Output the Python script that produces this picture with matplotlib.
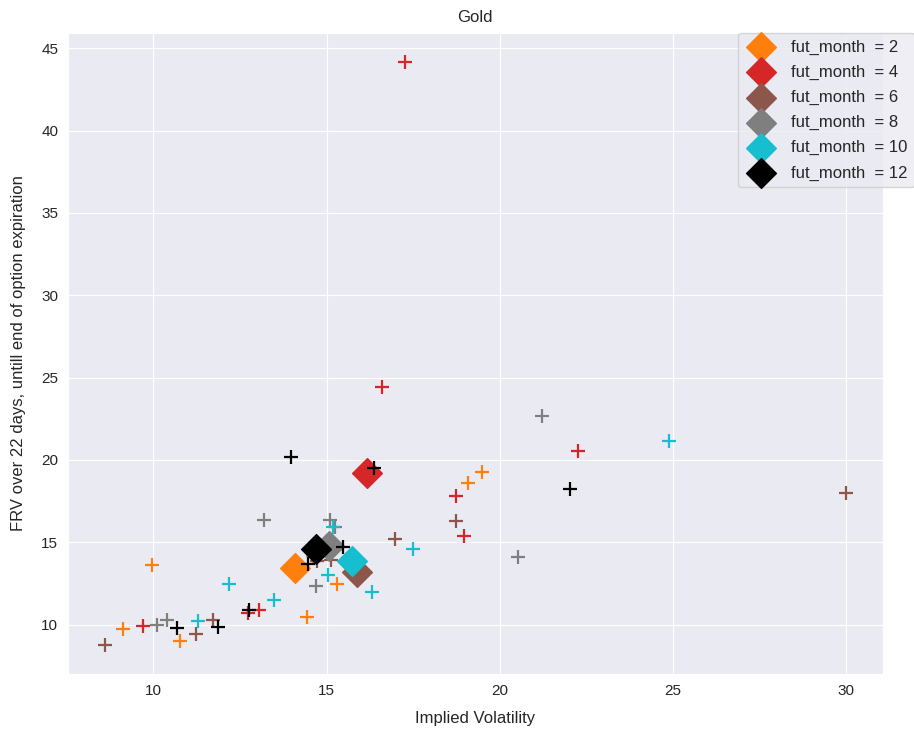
import numpy as np
import matplotlib
matplotlib.use('Agg')
import matplotlib.pyplot as plt
import seaborn as sns

sns.set_style('darkgrid')
plt.rcParams['font.family'] = ['Liberation Sans', 'DejaVu Sans']

# implied vol / forward realized vol per contract month
months = [2, 4, 6, 8, 10, 12]
colors = ['tab:orange', 'tab:red', 'tab:brown', 'tab:gray', 'tab:cyan', 'black']

iv_m2 = [9.95, 9.12, 10.77, 14.44, 15.31, 14.61, 19.09, 19.49]
frv_m2 = [13.59, 9.74, 9.03, 10.44, 12.48, 14.14, 18.59, 19.25]

iv_m4 = [17.27, 16.60, 22.27, 18.73, 18.97, 13.04, 12.72, 9.71]
frv_m4 = [44.18, 24.44, 20.56, 17.78, 15.35, 10.87, 10.71, 9.90]

iv_m6 = [30.0, 18.73, 16.98, 15.14, 14.73, 11.73, 11.22, 8.60]
frv_m6 = [17.98, 16.30, 15.21, 13.94, 13.84, 10.26, 9.45, 8.75]

iv_m8 = [21.23, 20.54, 13.19, 15.11, 14.69, 10.11, 10.38, 15.25]
frv_m8 = [22.69, 14.10, 16.36, 16.36, 12.32, 9.96, 10.30, 15.9]

iv_m10 = [24.91, 15.18, 17.50, 15.03, 16.32, 12.18, 13.47, 11.28]
frv_m10 = [21.15, 15.92, 14.61, 12.99, 11.98, 12.48, 11.47, 10.22]

iv_m12 = [13.96, 16.36, 22.03, 15.48, 14.47, 12.77, 10.69, 11.86]
frv_m12 = [20.2, 19.53, 18.22, 14.69, 13.68, 10.87, 9.78, 9.86]

iv = [iv_m2, iv_m4, iv_m6, iv_m8, iv_m10, iv_m12]
frv = [frv_m2, frv_m4, frv_m6, frv_m8, frv_m10, frv_m12]

fig = plt.figure(figsize=(9.14, 7.33), dpi=100)
ax = fig.add_axes([0.0744, 0.0801, 0.8913, 0.8753])

for m, c, x, y in zip(months, colors, iv, frv):
    ax.scatter(x, y, marker='+', s=100, color=c, linewidths=1.6)
    ax.scatter(np.mean(x), np.mean(y), marker='D', s=230, color=c,
               label='fut_month  = ' + str(m))

ax.set_title('Gold', fontsize=12, pad=8)
ax.set_xlabel('Implied Volatility', fontsize=12, labelpad=9)
ax.set_ylabel('FRV over 22 days, untill end of option expiration', fontsize=12, labelpad=11)
ax.tick_params(labelsize=11)

ax.legend(loc='upper left', bbox_to_anchor=(738 / 914, 1 - 33 / 733),
          bbox_transform=fig.transFigure, borderaxespad=0,
          fontsize=12, scatterpoints=1, labelspacing=0.6)

plt.savefig('out.png', dpi=100)
